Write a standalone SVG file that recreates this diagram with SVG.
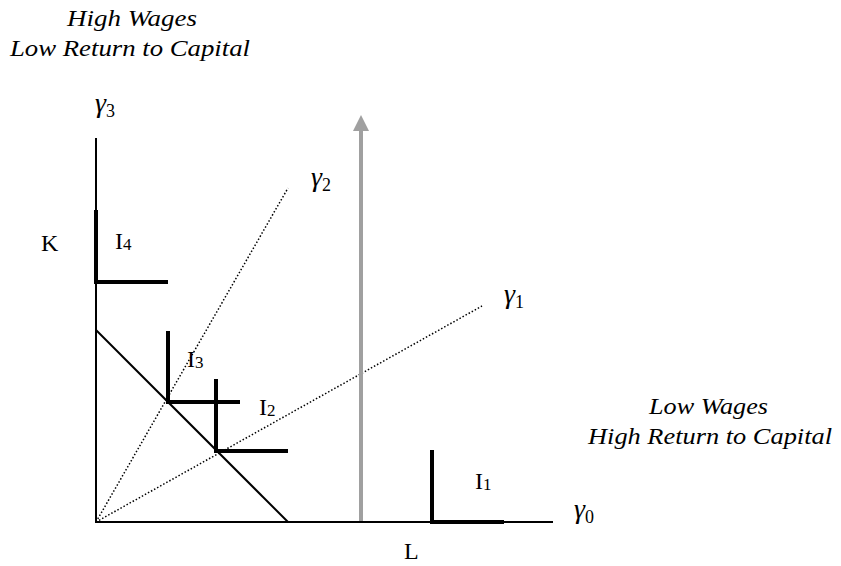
<svg xmlns="http://www.w3.org/2000/svg" width="841" height="566" viewBox="0 0 841 566">
<defs>
<style>
.cap{font-family:"Liberation Serif","Times New Roman",serif;font-style:italic;font-size:24px;fill:#000}
.lbl{font-family:"Liberation Serif","Times New Roman",serif;font-size:24px;fill:#000}
.gam{font-family:"Liberation Serif","Times New Roman",serif;font-style:italic;font-size:28px;fill:#000}
.sub{font-family:"Liberation Serif","Times New Roman",serif;font-style:normal;font-size:18px}
.isub{font-size:17px}
.axis{stroke:#000;stroke-width:2;fill:none}
.iso{stroke:#000;stroke-width:4;fill:none;stroke-linecap:butt}
.ray{stroke:#000;stroke-width:1.5;stroke-dasharray:1.5 2;fill:none}
.budget{stroke:#000;stroke-width:2;fill:none}
</style>
<marker id="arr" viewBox="0 0 16 16" refX="0" refY="8" markerWidth="16" markerHeight="16" markerUnits="userSpaceOnUse" orient="auto">
<path d="M0,0 L16,8 L0,16 Z" fill="#a0a0a0"/>
</marker>
</defs>
<rect width="841" height="566" fill="#fff"/>
<g id="captions">
<text class="cap" x="67" y="26" textLength="130" lengthAdjust="spacingAndGlyphs">High Wages</text>
<text class="cap" x="10" y="56" textLength="240" lengthAdjust="spacingAndGlyphs">Low Return to Capital</text>
<text class="cap" x="649" y="414" textLength="119" lengthAdjust="spacingAndGlyphs">Low Wages</text>
<text class="cap" x="588" y="444" textLength="244" lengthAdjust="spacingAndGlyphs">High Return to Capital</text>
</g>
<g id="connectors">
<line class="axis" x1="96" y1="138" x2="96" y2="523"/>
<line class="axis" x1="95" y1="522" x2="553" y2="522"/>
<line class="ray" x1="96" y1="522" x2="288" y2="188"/>
<line class="ray" x1="96" y1="522" x2="482" y2="306"/>
<line class="budget" x1="96" y1="330" x2="288" y2="522"/>
<line x1="361" y1="521" x2="361" y2="131" stroke="#a0a0a0" stroke-width="4" marker-end="url(#arr)"/>
</g>
<g id="axis-labels">
<text class="gam" x="95" y="112">γ<tspan class="sub" dy="5">3</tspan></text>
<text class="gam" x="311" y="186">γ<tspan class="sub" dy="5">2</tspan></text>
<text class="gam" x="504" y="303">γ<tspan class="sub" dy="5">1</tspan></text>
<text class="gam" x="574" y="518">γ<tspan class="sub" dy="5">0</tspan></text>
<text class="lbl" x="41" y="251">K</text>
<text class="lbl" x="404" y="559">L</text>
</g>
<g id="I4">
<path class="iso" d="M96,210 V282 H168"/>
<text class="lbl" x="115" y="249">I<tspan class="sub isub" dy="1">4</tspan></text>
</g>
<g id="I3">
<path class="iso" d="M168,331 V402 H240"/>
<text class="lbl" x="187" y="367">I<tspan class="sub isub" dy="1">3</tspan></text>
</g>
<g id="I2">
<path class="iso" d="M216,379 V451 H288"/>
<text class="lbl" x="259" y="415">I<tspan class="sub isub" dy="1">2</tspan></text>
</g>
<g id="I1">
<path class="iso" d="M432,450 V522 H504"/>
<text class="lbl" x="475" y="489">I<tspan class="sub isub" dy="1">1</tspan></text>
</g>
</svg>
